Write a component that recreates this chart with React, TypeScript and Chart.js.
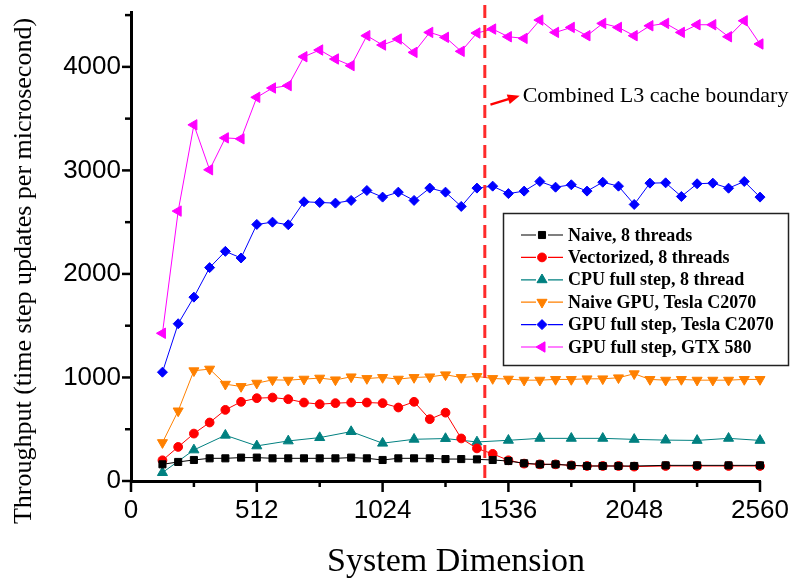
import React, { useEffect, useRef } from 'react';
import { Chart, registerables } from 'chart.js';

Chart.register(...registerables);

// ---------- data ----------
const dimsAll = [128, 192, 256, 320, 384, 448, 512, 576, 640, 704, 768, 832, 896, 960, 1024, 1088, 1152, 1216, 1280, 1344, 1408, 1472, 1536, 1600, 1664, 1728, 1792, 1856, 1920, 1984, 2048, 2112, 2176, 2240, 2304, 2368, 2432, 2496, 2560];
const dimsCpu = [128, 192, 256, 320, 384, 448, 512, 576, 640, 704, 768, 832, 896, 960, 1024, 1088, 1152, 1216, 1280, 1344, 1408, 1472, 1536, 1600, 1664, 1728, 1792, 1856, 1920, 1984, 2048, 2176, 2304, 2432, 2560];
const dimsCpuFull = [128, 256, 384, 512, 640, 768, 896, 1024, 1152, 1280, 1408, 1536, 1664, 1792, 1920, 2048, 2176, 2304, 2432, 2560];

const naive8 = [161, 184, 203, 219, 219, 226, 226, 219, 219, 219, 219, 219, 226, 219, 203, 219, 219, 219, 212, 212, 209, 203, 193, 171, 161, 161, 151, 145, 145, 145, 145, 151, 151, 151, 151];
const vectorized8 = [200, 329, 458, 565, 687, 765, 800, 806, 790, 758, 742, 752, 758, 758, 752, 710, 765, 597, 660, 411, 315, 262, 200, 168, 161, 161, 151, 145, 145, 145, 139, 145, 145, 145, 145];
const cpuFull8 = [81, 300, 442, 339, 387, 419, 477, 365, 403, 410, 377, 393, 412, 412, 412, 402, 395, 392, 412, 392];
const naiveGpu = [371, 677, 1065, 1081, 935, 913, 945, 977, 974, 984, 994, 977, 1006, 990, 1000, 984, 1000, 1006, 1026, 1000, 1010, 990, 984, 974, 974, 981, 981, 987, 987, 997, 1036, 981, 974, 981, 974, 974, 974, 981, 981];
const gpuFullTesla = [1051, 1519, 1776, 2061, 2218, 2154, 2478, 2500, 2475, 2697, 2690, 2684, 2710, 2806, 2742, 2790, 2710, 2829, 2790, 2652, 2829, 2848, 2776, 2800, 2893, 2838, 2861, 2800, 2886, 2848, 2671, 2877, 2880, 2748, 2871, 2877, 2828, 2893, 2742];
const gpuFullGtx = [1427, 2607, 3440, 3006, 3314, 3305, 3706, 3796, 3819, 4098, 4163, 4076, 4012, 4301, 4211, 4269, 4140, 4333, 4285, 4150, 4327, 4365, 4291, 4275, 4452, 4333, 4381, 4301, 4420, 4381, 4301, 4397, 4420, 4333, 4407, 4407, 4291, 4445, 4221];

const seriesLabels = ['Naive, 8 threads', 'Vectorized, 8 threads', 'CPU full step, 8 thread', 'Naive GPU, Tesla C2070', 'GPU full step, Tesla C2070', 'GPU full step, GTX 580'];
const xTickValues = [0, 512, 1024, 1536, 2048, 2560];
const yTickValues = [0, 1000, 2000, 3000, 4000];
const xTitle = 'System Dimension';
const yTitle = 'Throughput (time step updates per microsecond)';
const cacheBoundary = 1440;
const annotationText = 'Combined L3 cache boundary';
const arrowFrom = { x: 1463, y: 3635 };
const arrowTo = { x: 1582, y: 3722 };
const annotationAt = { x: 1594, y: 3713 };

const X_MAX = 2560;
const Y_MAX = 4530;

// ---------- styles ----------
const styles = [
  { color: '#000000', shape: 'rect', radius: 5, rotation: 0 },
  { color: '#ff0000', shape: 'circle', radius: 4.4, rotation: 0 },
  { color: '#008080', shape: 'triangle', radius: 5.8, rotation: 0 },
  { color: '#ff8000', shape: 'triangle', radius: 5.8, rotation: 180 },
  { color: '#0000ff', shape: 'rectRot', radius: 5, rotation: 0 },
  { color: '#ff00ff', shape: 'triangle', radius: 6, rotation: -90 },
];

function pts(xs: number[], ys: number[]) {
  return xs.map((x, i) => ({ x, y: ys[i] }));
}

function drawMarker(ctx: CanvasRenderingContext2D, shape: string, cx: number, cy: number, r: number, rot: number, color: string) {
  ctx.save();
  ctx.fillStyle = color;
  ctx.strokeStyle = color;
  ctx.lineWidth = 1;
  ctx.translate(cx, cy);
  ctx.rotate((rot * Math.PI) / 180);
  ctx.beginPath();
  if (shape === 'rect') {
    const s = r * Math.SQRT1_2;
    ctx.rect(-s, -s, 2 * s, 2 * s);
  } else if (shape === 'circle') {
    ctx.arc(0, 0, r, 0, Math.PI * 2);
  } else if (shape === 'triangle') {
    for (let i = 0; i < 3; i++) {
      const a = (i * 2 * Math.PI) / 3;
      const px = Math.sin(a) * r;
      const py = -Math.cos(a) * r;
      if (i === 0) ctx.moveTo(px, py); else ctx.lineTo(px, py);
    }
    ctx.closePath();
  } else if (shape === 'rectRot') {
    ctx.moveTo(-r, 0); ctx.lineTo(0, -r); ctx.lineTo(r, 0); ctx.lineTo(0, r); ctx.closePath();
  }
  ctx.fill();
  ctx.stroke();
  ctx.restore();
}

const decorPlugin = {
  id: 'decor',
  afterDatasetsDraw(chart: any) {
    const { ctx, chartArea, scales } = chart;
    const x = scales.x;
    const px = x.getPixelForValue(cacheBoundary);
    ctx.save();
    ctx.strokeStyle = '#ff2a2a';
    ctx.lineWidth = 3;
    ctx.setLineDash([13, 7]);
    ctx.beginPath();
    ctx.moveTo(px, chartArea.top - 7);
    ctx.lineTo(px, chartArea.bottom);
    ctx.stroke();
    ctx.restore();
  },
  afterDraw(chart: any) {
    const { ctx, chartArea, scales } = chart;
    const x = scales.x;
    const y = scales.y;
    ctx.save();
    // tick marks
    ctx.strokeStyle = '#000';
    ctx.lineWidth = 2.5;
    ctx.setLineDash([]);
    for (let v = 0; v <= X_MAX; v += 256) {
      const p = x.getPixelForValue(v);
      const len = v % 512 === 0 ? 11 : 6;
      ctx.beginPath();
      ctx.moveTo(p, chartArea.bottom);
      ctx.lineTo(p, chartArea.bottom + len);
      ctx.stroke();
    }
    for (let v = 0; v <= Y_MAX; v += 500) {
      const p = y.getPixelForValue(v);
      const len = v % 1000 === 0 ? 9 : 6;
      ctx.beginPath();
      ctx.moveTo(chartArea.left, p);
      ctx.lineTo(chartArea.left - len, p);
      ctx.stroke();
    }

    // axis titles
    ctx.fillStyle = '#000';
    ctx.font = '34px "Liberation Serif", "Times New Roman", serif';
    ctx.textAlign = 'center';
    ctx.textBaseline = 'alphabetic';
    ctx.fillText(xTitle, 456, 571);
    ctx.save();
    ctx.translate(31, 271);
    ctx.rotate(-Math.PI / 2);
    ctx.font = '26px "Liberation Serif", "Times New Roman", serif';
    ctx.fillText(yTitle, 0, 0);
    ctx.restore();

    // annotation arrow + text
    const ax0 = x.getPixelForValue(arrowFrom.x), ay0 = y.getPixelForValue(arrowFrom.y);
    const ax1 = x.getPixelForValue(arrowTo.x), ay1 = y.getPixelForValue(arrowTo.y);
    const ang = Math.atan2(ay1 - ay0, ax1 - ax0);
    ctx.strokeStyle = '#ff0000';
    ctx.fillStyle = '#ff0000';
    ctx.lineWidth = 2.5;
    ctx.beginPath();
    ctx.moveTo(ax0, ay0);
    ctx.lineTo(ax1 - Math.cos(ang) * 6, ay1 - Math.sin(ang) * 6);
    ctx.stroke();
    ctx.beginPath();
    ctx.moveTo(ax1, ay1);
    ctx.lineTo(ax1 - Math.cos(ang) * 12 - Math.sin(ang) * 5, ay1 - Math.sin(ang) * 12 + Math.cos(ang) * 5);
    ctx.lineTo(ax1 - Math.cos(ang) * 12 + Math.sin(ang) * 5, ay1 - Math.sin(ang) * 12 - Math.cos(ang) * 5);
    ctx.closePath();
    ctx.fill();
    ctx.fillStyle = '#000';
    ctx.font = '22px "Liberation Serif", "Times New Roman", serif';
    ctx.textAlign = 'left';
    ctx.textBaseline = 'middle';
    ctx.fillText(annotationText, x.getPixelForValue(annotationAt.x), y.getPixelForValue(annotationAt.y));

    // legend
    const bx = 503.5, by = 213.5, bw = 285, bh = 152;
    ctx.fillStyle = '#fff';
    ctx.fillRect(bx, by, bw, bh);
    ctx.strokeStyle = '#222';
    ctx.lineWidth = 1.5;
    ctx.strokeRect(bx, by, bw, bh);
    ctx.font = 'bold 18px "Liberation Serif", "Times New Roman", serif';
    ctx.textBaseline = 'middle';
    ctx.textAlign = 'left';
    chart.data.datasets.forEach((ds: any, i: number) => {
      const st = styles[i];
      const cy = 235 + i * 22.4;
      ctx.strokeStyle = st.color;
      ctx.lineWidth = 1.2;
      ctx.beginPath();
      ctx.moveTo(521, cy); ctx.lineTo(536, cy);
      ctx.moveTo(548, cy); ctx.lineTo(563, cy);
      ctx.stroke();
      drawMarker(ctx, st.shape, 542, cy, st.radius, st.rotation, st.color);
      ctx.fillStyle = '#000';
      ctx.fillText(ds.label, 568, cy + 1);
    });
    ctx.restore();
  },
};

export default function App() {
  const ref = useRef<HTMLCanvasElement>(null);
  useEffect(() => {
    const canvas = ref.current;
    if (!canvas) return;
    const seriesData = [
      pts(dimsCpu, naive8),
      pts(dimsCpu, vectorized8),
      pts(dimsCpuFull, cpuFull8),
      pts(dimsAll, naiveGpu),
      pts(dimsAll, gpuFullTesla),
      pts(dimsAll, gpuFullGtx),
    ];
    const tickFont = { family: '"Liberation Sans", Arial, sans-serif', size: 26 };
    const chart = new Chart(canvas, {
      type: 'line',
      data: {
        datasets: seriesData.map((d, i) => ({
          label: seriesLabels[i],
          data: d,
          borderColor: styles[i].color,
          backgroundColor: styles[i].color,
          borderWidth: 1,
          pointStyle: styles[i].shape as any,
          pointRotation: styles[i].rotation,
          pointRadius: styles[i].radius,
          pointBorderWidth: 1,
          pointBorderColor: styles[i].color,
          pointBackgroundColor: styles[i].color,
          tension: 0,
          fill: false,
          clip: false as any,
        })),
      },
      options: {
        responsive: false,
        animation: false,
        devicePixelRatio: 1,
        layout: { padding: { top: 12, right: 34, left: 0, bottom: 0 } },
        plugins: { legend: { display: false }, tooltip: { enabled: false }, title: { display: false } },
        scales: {
          x: {
            type: 'linear',
            min: 0,
            max: X_MAX,
            afterFit: (s: any) => { s.height = 97; s.paddingLeft = 0; s.paddingRight = 0; },
            afterBuildTicks: (s: any) => { s.ticks = xTickValues.map((v) => ({ value: v })); },
            ticks: { font: tickFont, color: '#000', padding: 14, maxRotation: 0, autoSkip: false, callback: (v: any) => String(v) },
            grid: { drawOnChartArea: false, drawTicks: false },
            border: { display: true, color: '#000', width: 3 },
          },
          y: {
            type: 'linear',
            min: 0,
            max: Y_MAX,
            afterFit: (s: any) => { s.width = 131; s.paddingTop = 0; s.paddingBottom = 0; },
            afterBuildTicks: (s: any) => { s.ticks = yTickValues.map((v) => ({ value: v })); },
            ticks: { font: tickFont, color: '#000', padding: 10, callback: (v: any) => String(v) },
            grid: { drawOnChartArea: false, drawTicks: false },
            border: { display: true, color: '#000', width: 3 },
          },
        },
      },
      plugins: [decorPlugin],
    });
    return () => chart.destroy();
  }, []);
  return (
    <div style={{ position: 'absolute', left: 0, top: 0, width: 794, height: 578, background: '#fff' }}>
      <canvas ref={ref} width={794} height={578} style={{ display: 'block' }} />
    </div>
  );
}
